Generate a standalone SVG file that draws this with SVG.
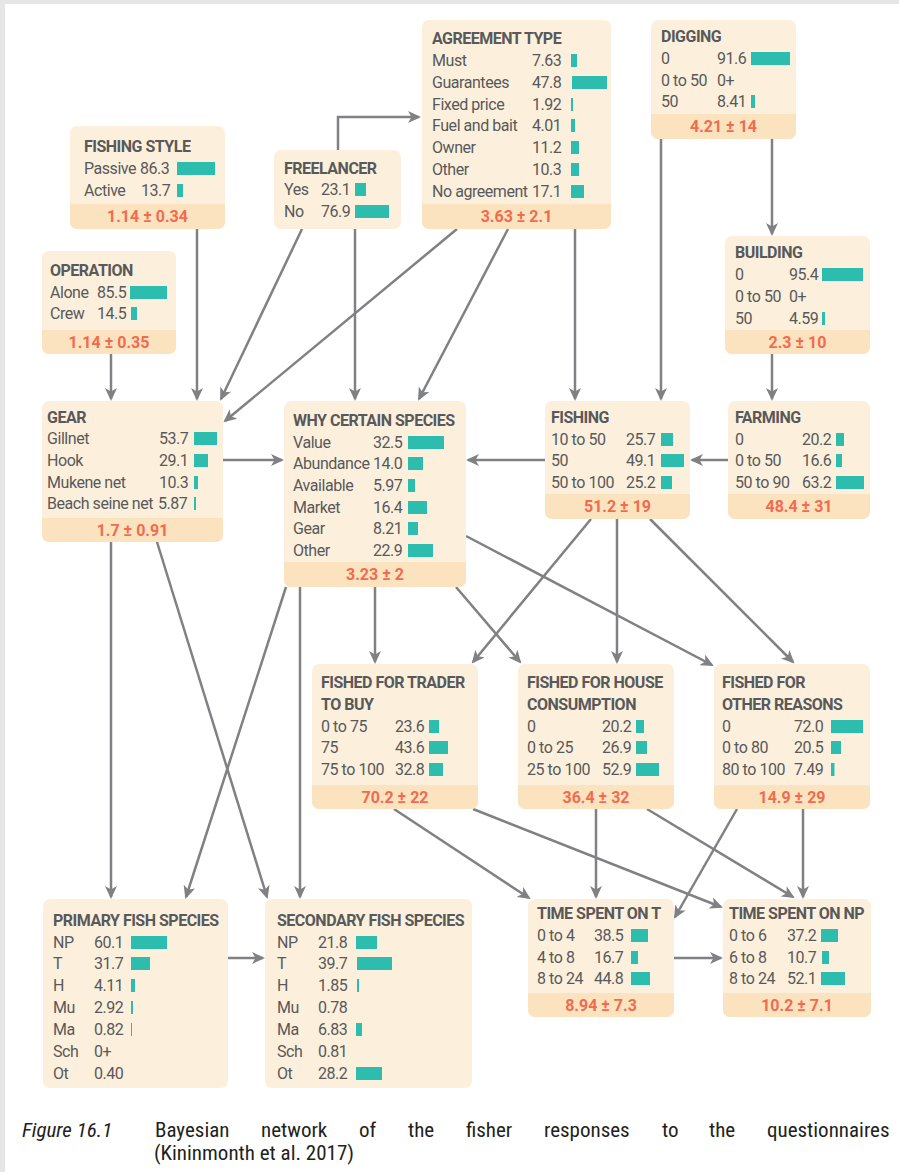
<svg xmlns="http://www.w3.org/2000/svg" width="899" height="1172" viewBox="0 0 899 1172">
<style>
.box{fill:#FCF0DC}
.ft{fill:#FAE3BE}
text{font-family:Roboto,"Liberation Sans",sans-serif;font-size:16px;letter-spacing:-0.45px;fill:#58595B}
.h{font-weight:bold;letter-spacing:-0.5px}
.f{font-weight:bold;font-size:16px;letter-spacing:0;fill:#F26B50;text-anchor:middle}
.bar{fill:#2DBDAE}
.e{stroke:#808184;stroke-width:2.5;fill:none;marker-end:url(#ah)}
.cap{font-family:"Liberation Sans Narrow","Roboto Condensed",Roboto,sans-serif;font-size:21px;letter-spacing:0;fill:#231F20}
.it{font-style:italic}
</style>
<defs>
<marker id="ah" markerUnits="userSpaceOnUse" markerWidth="14" markerHeight="12" refX="11" refY="6" orient="auto">
<path d="M0,0 L13,6 L0,12 L3.5,6 Z" fill="#808184"/>
</marker>
</defs>
<rect x="0" y="0" width="899" height="1172" fill="#E6E6E6"/>
<rect x="5" y="4" width="894" height="1168" fill="#FFFFFF"/>

<g id="connectors">
<path class="e" d="M338,150 V117 H419"/>
<path class="e" d="M197,229 V399"/>
<path class="e" d="M302,229 L221,399"/>
<path class="e" d="M355,229 V399"/>
<path class="e" d="M457,229 L225,421"/>
<path class="e" d="M508,229 L419,399"/>
<path class="e" d="M575,229 V399"/>
<path class="e" d="M661,139 V399"/>
<path class="e" d="M772,139 V234"/>
<path class="e" d="M772,354 V399"/>
<path class="e" d="M111,354 V399"/>
<path class="e" d="M223,460 H282"/>
<path class="e" d="M728,460 H692"/>
<path class="e" d="M545,460 H468"/>
<path class="e" d="M111,542 V897"/>
<path class="e" d="M157,542 L267,897"/>
<path class="e" d="M286,587 L186,897"/>
<path class="e" d="M300,587 V897"/>
<path class="e" d="M375,587 V662"/>
<path class="e" d="M456,587 L520,662"/>
<path class="e" d="M466,536 L712,665"/>
<path class="e" d="M591,519 L473,662"/>
<path class="e" d="M617,519 V662"/>
<path class="e" d="M650,519 L793,662"/>
<path class="e" d="M394,809 L529,898"/>
<path class="e" d="M473,809 L721,907"/>
<path class="e" d="M596,809 V897"/>
<path class="e" d="M647,809 L793,897"/>
<path class="e" d="M737,809 L675,917"/>
<path class="e" d="M803,809 V897"/>
<path class="e" d="M228,958 H263"/>
<path class="e" d="M674,958 H721"/>
</g>

<g id="fishing-style">
<rect class="box" x="70" y="126" width="155" height="103" rx="7"/>
<rect class="ft" x="70" y="204" width="155" height="25" rx="7"/>
<rect class="ft" x="70" y="204" width="155" height="8"/>
<text class="h" x="84" y="152">FISHING STYLE</text>
<text x="84" y="174">Passive</text><text x="140" y="174">86.3</text><rect class="bar" x="177" y="162" width="38" height="13"/>
<text x="84" y="196">Active</text><text x="141" y="196">13.7</text><rect class="bar" x="177" y="184" width="6" height="13"/>
<text class="f" x="147.5" y="222">1.14 ± 0.34</text>
</g>

<g id="freelancer">
<rect class="box" x="274" y="150" width="127" height="79" rx="7"/>
<text class="h" x="284" y="174">FREELANCER</text>
<text x="284" y="195">Yes</text><text x="321" y="195">23.1</text><rect class="bar" x="355" y="183" width="11" height="13"/>
<text x="284" y="217">No</text><text x="321" y="217">76.9</text><rect class="bar" x="355" y="205" width="34" height="13"/>
</g>

<g id="agreement-type">
<rect class="box" x="422" y="20" width="189" height="209" rx="7"/>
<rect class="ft" x="422" y="204" width="189" height="25" rx="7"/>
<rect class="ft" x="422" y="204" width="189" height="8"/>
<text class="h" x="432" y="44">AGREEMENT TYPE</text>
<text x="432" y="66">Must</text><text x="532" y="66">7.63</text><rect class="bar" x="571" y="54" width="6" height="13"/>
<text x="432" y="88">Guarantees</text><text x="532" y="88">47.8</text><rect class="bar" x="572" y="76" width="35" height="13"/>
<text x="432" y="110">Fixed price</text><text x="532" y="110">1.92</text><rect class="bar" x="571" y="98" width="2" height="13"/>
<text x="432" y="131">Fuel and bait</text><text x="532" y="131">4.01</text><rect class="bar" x="571" y="119" width="4" height="13"/>
<text x="432" y="153">Owner</text><text x="532" y="153">11.2</text><rect class="bar" x="571" y="141" width="8" height="13"/>
<text x="432" y="175">Other</text><text x="532" y="175">10.3</text><rect class="bar" x="571" y="163" width="8" height="13"/>
<text x="432" y="197">No agreement</text><text x="532" y="197">17.1</text><rect class="bar" x="571" y="185" width="13" height="13"/>
<text class="f" x="516.5" y="222">3.63 ± 2.1</text>
</g>

<g id="digging">
<rect class="box" x="651" y="20" width="145" height="119" rx="7"/>
<rect class="ft" x="651" y="114" width="145" height="25" rx="7"/>
<rect class="ft" x="651" y="114" width="145" height="8"/>
<text class="h" x="661" y="42">DIGGING</text>
<text x="661" y="64">0</text><text x="717" y="64">91.6</text><rect class="bar" x="751" y="52" width="39" height="13"/>
<text x="661" y="86">0 to 50</text><text x="717" y="86">0+</text>
<text x="661" y="107">50</text><text x="717" y="107">8.41</text><rect class="bar" x="751" y="95" width="4" height="13"/>
<text class="f" x="723.5" y="132">4.21 ± 14</text>
</g>

<g id="operation">
<rect class="box" x="42" y="251" width="134" height="103" rx="7"/>
<rect class="ft" x="42" y="330" width="134" height="24" rx="7"/>
<rect class="ft" x="42" y="330" width="134" height="8"/>
<text class="h" x="50" y="276">OPERATION</text>
<text x="50" y="298">Alone</text><text x="97" y="298">85.5</text><rect class="bar" x="130" y="286" width="37" height="13"/>
<text x="50" y="319">Crew</text><text x="97" y="319">14.5</text><rect class="bar" x="131" y="307" width="6" height="13"/>
<text class="f" x="109" y="348">1.14 ± 0.35</text>
</g>

<g id="building">
<rect class="box" x="725" y="236" width="145" height="118" rx="7"/>
<rect class="ft" x="725" y="330" width="145" height="24" rx="7"/>
<rect class="ft" x="725" y="330" width="145" height="8"/>
<text class="h" x="735" y="258">BUILDING</text>
<text x="735" y="280">0</text><text x="789" y="280">95.4</text><rect class="bar" x="822" y="268" width="41" height="13"/>
<text x="735" y="302">0 to 50</text><text x="789" y="302">0+</text>
<text x="735" y="324">50</text><text x="789" y="324">4.59</text><rect class="bar" x="822" y="312" width="3" height="13"/>
<text class="f" x="797.5" y="348">2.3 ± 10</text>
</g>

<g id="gear">
<rect class="box" x="42" y="401" width="181" height="141" rx="7"/>
<rect class="ft" x="42" y="518" width="181" height="24" rx="7"/>
<rect class="ft" x="42" y="518" width="181" height="8"/>
<text class="h" x="47" y="423">GEAR</text>
<text x="47" y="444">Gillnet</text><text x="159" y="444">53.7</text><rect class="bar" x="194" y="432" width="23" height="13"/>
<text x="47" y="466">Hook</text><text x="159" y="466">29.1</text><rect class="bar" x="194" y="454" width="14" height="13"/>
<text x="47" y="488">Mukene net</text><text x="159" y="488">10.3</text><rect class="bar" x="194" y="476" width="4" height="13"/>
<text x="47" y="509">Beach seine net</text><text x="158" y="509">5.87</text><rect class="bar" x="194" y="497" width="2" height="13"/>
<text class="f" x="132.5" y="536">1.7 ± 0.91</text>
</g>

<g id="why-certain-species">
<rect class="box" x="284" y="401" width="182" height="186" rx="7"/>
<rect class="ft" x="284" y="562" width="182" height="25" rx="7"/>
<rect class="ft" x="284" y="562" width="182" height="8"/>
<text class="h" x="293" y="426">WHY CERTAIN SPECIES</text>
<text x="293" y="448">Value</text><text x="373" y="448">32.5</text><rect class="bar" x="408" y="436" width="36" height="13"/>
<text x="293" y="469">Abundance</text><text x="373" y="469">14.0</text><rect class="bar" x="408" y="457" width="15" height="13"/>
<text x="293" y="491">Available</text><text x="373" y="491">5.97</text><rect class="bar" x="408" y="479" width="7" height="13"/>
<text x="293" y="513">Market</text><text x="373" y="513">16.4</text><rect class="bar" x="408" y="501" width="19" height="13"/>
<text x="293" y="534">Gear</text><text x="373" y="534">8.21</text><rect class="bar" x="408" y="522" width="10" height="13"/>
<text x="293" y="556">Other</text><text x="373" y="556">22.9</text><rect class="bar" x="408" y="544" width="25" height="13"/>
<text class="f" x="375" y="580">3.23 ± 2</text>
</g>

<g id="fishing">
<rect class="box" x="545" y="401" width="145" height="118" rx="7"/>
<rect class="ft" x="545" y="494" width="145" height="25" rx="7"/>
<rect class="ft" x="545" y="494" width="145" height="8"/>
<text class="h" x="551" y="423">FISHING</text>
<text x="551" y="445">10 to 50</text><text x="626" y="445">25.7</text><rect class="bar" x="661" y="433" width="12" height="13"/>
<text x="551" y="466">50</text><text x="626" y="466">49.1</text><rect class="bar" x="661" y="454" width="23" height="13"/>
<text x="551" y="488">50 to 100</text><text x="626" y="488">25.2</text><rect class="bar" x="661" y="476" width="11" height="13"/>
<text class="f" x="617.5" y="512">51.2 ± 19</text>
</g>

<g id="farming">
<rect class="box" x="728" y="401" width="142" height="118" rx="7"/>
<rect class="ft" x="728" y="494" width="142" height="25" rx="7"/>
<rect class="ft" x="728" y="494" width="142" height="8"/>
<text class="h" x="735" y="423">FARMING</text>
<text x="735" y="445">0</text><text x="802" y="445">20.2</text><rect class="bar" x="836" y="433" width="8" height="13"/>
<text x="735" y="466">0 to 50</text><text x="802" y="466">16.6</text><rect class="bar" x="836" y="454" width="6" height="13"/>
<text x="735" y="488">50 to 90</text><text x="802" y="488">63.2</text><rect class="bar" x="836" y="476" width="28" height="13"/>
<text class="f" x="799" y="512">48.4 ± 31</text>
</g>

<g id="fished-for-trader">
<rect class="box" x="312" y="664" width="166" height="145" rx="7"/>
<rect class="ft" x="312" y="785" width="166" height="24" rx="7"/>
<rect class="ft" x="312" y="785" width="166" height="8"/>
<text class="h" x="321" y="688">FISHED FOR TRADER</text>
<text class="h" x="321" y="710">TO BUY</text>
<text x="321" y="732">0 to 75</text><text x="395" y="732">23.6</text><rect class="bar" x="429" y="720" width="10" height="13"/>
<text x="321" y="753">75</text><text x="395" y="753">43.6</text><rect class="bar" x="429" y="741" width="19" height="13"/>
<text x="321" y="775">75 to 100</text><text x="395" y="775">32.8</text><rect class="bar" x="429" y="763" width="14" height="13"/>
<text class="f" x="395" y="803">70.2 ± 22</text>
</g>

<g id="fished-for-house">
<rect class="box" x="518" y="664" width="156" height="145" rx="7"/>
<rect class="ft" x="518" y="785" width="156" height="24" rx="7"/>
<rect class="ft" x="518" y="785" width="156" height="8"/>
<text class="h" x="527" y="688">FISHED FOR HOUSE</text>
<text class="h" x="527" y="710">CONSUMPTION</text>
<text x="527" y="732">0</text><text x="602" y="732">20.2</text><rect class="bar" x="636" y="720" width="8" height="13"/>
<text x="527" y="753">0 to 25</text><text x="602" y="753">26.9</text><rect class="bar" x="636" y="741" width="11" height="13"/>
<text x="527" y="775">25 to 100</text><text x="602" y="775">52.9</text><rect class="bar" x="636" y="763" width="23" height="13"/>
<text class="f" x="596" y="803">36.4 ± 32</text>
</g>

<g id="fished-for-other">
<rect class="box" x="714" y="664" width="156" height="145" rx="7"/>
<rect class="ft" x="714" y="785" width="156" height="24" rx="7"/>
<rect class="ft" x="714" y="785" width="156" height="8"/>
<text class="h" x="722" y="688">FISHED FOR</text>
<text class="h" x="722" y="710">OTHER REASONS</text>
<text x="722" y="732">0</text><text x="794" y="732">72.0</text><rect class="bar" x="831" y="720" width="32" height="13"/>
<text x="722" y="753">0 to 80</text><text x="794" y="753">20.5</text><rect class="bar" x="831" y="741" width="10" height="13"/>
<text x="722" y="775">80 to 100</text><text x="794" y="775">7.49</text><rect class="bar" x="831" y="763" width="3.5" height="13"/>
<text class="f" x="792" y="803">14.9 ± 29</text>
</g>

<g id="primary-fish-species">
<rect class="box" x="43" y="899" width="185" height="189" rx="7"/>
<text class="h" x="53" y="926">PRIMARY FISH SPECIES</text>
<text x="53" y="948">NP</text><text x="94" y="948">60.1</text><rect class="bar" x="131" y="936" width="36" height="13"/>
<text x="53" y="969">T</text><text x="94" y="969">31.7</text><rect class="bar" x="131" y="957" width="19" height="13"/>
<text x="53" y="991">H</text><text x="94" y="991">4.11</text><rect class="bar" x="131" y="979" width="4" height="13"/>
<text x="53" y="1013">Mu</text><text x="94" y="1013">2.92</text><rect class="bar" x="131" y="1001" width="2" height="13"/>
<text x="53" y="1035">Ma</text><text x="94" y="1035">0.82</text><rect class="bar" x="131" y="1023" width="1" height="13"/>
<text x="53" y="1057">Sch</text><text x="94" y="1057">0+</text>
<text x="53" y="1079">Ot</text><text x="94" y="1079">0.40</text>
</g>

<g id="secondary-fish-species">
<rect class="box" x="265" y="899" width="207" height="189" rx="7"/>
<text class="h" x="277" y="926">SECONDARY FISH SPECIES</text>
<text x="277" y="948">NP</text><text x="318" y="948">21.8</text><rect class="bar" x="356" y="936" width="21" height="13"/>
<text x="277" y="969">T</text><text x="318" y="969">39.7</text><rect class="bar" x="357" y="957" width="35" height="13"/>
<text x="277" y="991">H</text><text x="318" y="991">1.85</text><rect class="bar" x="357" y="979" width="2" height="13"/>
<text x="277" y="1013">Mu</text><text x="318" y="1013">0.78</text>
<text x="277" y="1035">Ma</text><text x="318" y="1035">6.83</text><rect class="bar" x="356" y="1023" width="6" height="13"/>
<text x="277" y="1057">Sch</text><text x="318" y="1057">0.81</text>
<text x="277" y="1079">Ot</text><text x="318" y="1079">28.2</text><rect class="bar" x="356" y="1067" width="26" height="13"/>
</g>

<g id="time-spent-on-t">
<rect class="box" x="528" y="899" width="146" height="118" rx="7"/>
<rect class="ft" x="528" y="993" width="146" height="24" rx="7"/>
<rect class="ft" x="528" y="993" width="146" height="8"/>
<text class="h" x="537" y="919">TIME SPENT ON T</text>
<text x="537" y="941">0 to 4</text><text x="594" y="941">38.5</text><rect class="bar" x="631" y="929" width="17" height="13"/>
<text x="537" y="963">4 to 8</text><text x="594" y="963">16.7</text><rect class="bar" x="631" y="951" width="7" height="13"/>
<text x="537" y="984">8 to 24</text><text x="594" y="984">44.8</text><rect class="bar" x="631" y="972" width="19" height="13"/>
<text class="f" x="601" y="1011">8.94 ± 7.3</text>
</g>

<g id="time-spent-on-np">
<rect class="box" x="723" y="899" width="148" height="118" rx="7"/>
<rect class="ft" x="723" y="993" width="148" height="24" rx="7"/>
<rect class="ft" x="723" y="993" width="148" height="8"/>
<text class="h" x="729" y="919">TIME SPENT ON NP</text>
<text x="729" y="941">0 to 6</text><text x="787" y="941">37.2</text><rect class="bar" x="821" y="929" width="17" height="13"/>
<text x="729" y="963">6 to 8</text><text x="787" y="963">10.7</text><rect class="bar" x="822" y="951" width="7" height="13"/>
<text x="729" y="984">8 to 24</text><text x="787" y="984">52.1</text><rect class="bar" x="821" y="972" width="24" height="13"/>
<text class="f" x="797" y="1011">10.2 ± 7.1</text>
</g>

<g id="caption">
<text class="cap it" x="22" y="1137">Figure 16.1</text>
<text class="cap" y="1137"><tspan x="155">Bayesian</tspan><tspan x="261">network</tspan><tspan x="359">of</tspan><tspan x="408">the</tspan><tspan x="466">fisher</tspan><tspan x="544">responses</tspan><tspan x="662">to</tspan><tspan x="709">the</tspan><tspan x="767">questionnaires</tspan></text>
<text class="cap" x="154" y="1160">(Kininmonth et al. 2017)</text>
</g>
</svg>
